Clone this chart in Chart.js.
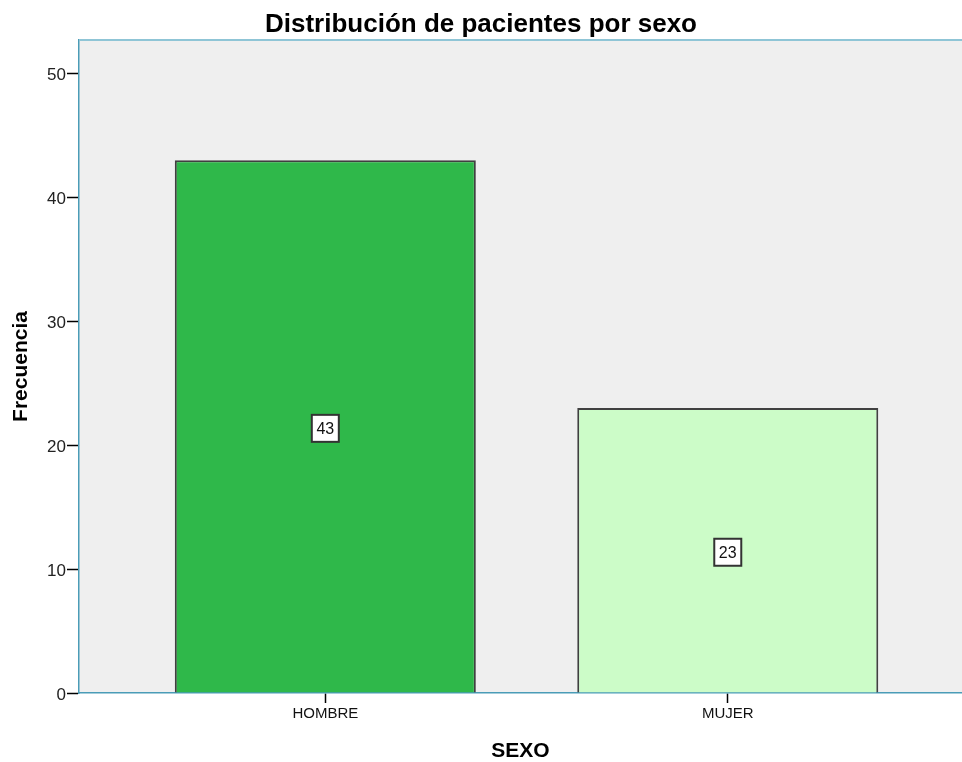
<!DOCTYPE html>
<html>
<head>
<meta charset="utf-8">
<title>Distribución de pacientes por sexo</title>
<script src="https://cdn.jsdelivr.net/npm/chart.js@4.4.1/dist/chart.umd.min.js"></script>
<style>
  html, body { margin: 0; padding: 0; background: #fff; overflow: hidden; }
  #wrap { width: 962px; height: 762px; }
</style>
</head>
<body>
<div id="wrap"><canvas id="chart"></canvas></div>
<script>
  // data
  const categories = ['HOMBRE', 'MUJER'];
  const frequencies = [43, 23];
  const yTicks = [0, 10, 20, 30, 40, 50];

  const FONT = '"Liberation Sans", Arial, sans-serif';

  // grey plot background + light blue frame on top
  const framePlugin = {
    id: 'frame',
    beforeDraw(chart) {
      const { ctx, chartArea: a } = chart;
      ctx.save();
      ctx.fillStyle = '#efefef';
      ctx.fillRect(a.left, a.top, a.right - a.left, a.bottom - a.top);
      ctx.restore();
    },
    afterDraw(chart) {
      const { ctx, chartArea: a } = chart;
      ctx.save();
      ctx.strokeStyle = '#8fc5d6';
      ctx.lineWidth = 2;
      ctx.beginPath();
      ctx.moveTo(a.left, a.top);
      ctx.lineTo(a.right, a.top);
      ctx.stroke();
      ctx.restore();
    }
  };

  // boxed count in the middle of each bar
  const countBoxes = {
    id: 'countBoxes',
    afterDatasetsDraw(chart) {
      const { ctx } = chart;
      const meta = chart.getDatasetMeta(0);
      ctx.save();
      ctx.font = '16px ' + FONT;
      ctx.textAlign = 'center';
      ctx.textBaseline = 'middle';
      meta.data.forEach((bar, i) => {
        const cx = bar.x;
        const cy = (bar.y + bar.base) / 2 + 2;
        const w = 27, h = 27;
        ctx.fillStyle = '#fff';
        ctx.fillRect(cx - w / 2, cy - h / 2, w, h);
        ctx.strokeStyle = '#333';
        ctx.lineWidth = 2;
        ctx.strokeRect(cx - w / 2, cy - h / 2, w, h);
        ctx.fillStyle = '#111';
        ctx.fillText(String(frequencies[i]), cx, cy + 1);
      });
      ctx.restore();
    }
  };

  new Chart(document.getElementById('chart'), {
    type: 'bar',
    data: {
      datasets: [{
        data: categories.map((c, i) => ({ x: i, y: frequencies[i] })),
        backgroundColor: ['#2fb84a', '#ccfcc8'],
        borderColor: '#404040',
        borderWidth: 2,
        categoryPercentage: 1,
        barPercentage: 0.748
      }]
    },
    options: {
      responsive: true,
      maintainAspectRatio: false,
      animation: false,
      layout: { padding: 0 },
      plugins: {
        legend: { display: false },
        tooltip: { enabled: false },
        title: {
          display: true,
          text: 'Distribución de pacientes por sexo',
          color: '#000',
          font: { family: FONT, size: 26, weight: 'bold', lineHeight: 1.1 },
          padding: { top: 11, bottom: 0.4 }
        }
      },
      scales: {
        x: {
          type: 'linear',
          min: -0.612,
          max: 1.582,
          offset: false,
          afterBuildTicks: s => { s.ticks = categories.map((c, i) => ({ value: i })); },
          afterFit: s => { s.height = 69; },
          grid: { offset: false, drawOnChartArea: false, drawTicks: true, tickLength: 10, tickColor: '#000', tickWidth: 1.5 },
          border: { display: true, color: '#4a9cb7', width: 1.5 },
          ticks: {
            autoSkip: false,
            maxRotation: 0,
            padding: 2,
            color: '#111',
            font: { family: FONT, size: 15 },
            callback: (v, i) => categories[i]
          },
          title: {
            display: true,
            text: 'SEXO',
            color: '#000',
            font: { family: FONT, size: 21, weight: 'bold', lineHeight: 1 },
            padding: 0
          }
        },
        y: {
          min: 0,
          max: 52.7,
          afterBuildTicks: s => { s.ticks = yTicks.map(v => ({ value: v })); },
          afterFit: s => { s.width = 79; },
          grid: { drawOnChartArea: false, drawTicks: true, tickLength: 12, tickColor: '#000', tickWidth: 1.5 },
          border: { display: true, color: '#4a9cb7', width: 1.5 },
          ticks: {
            padding: 1,
            labelOffset: 2,
            color: '#222',
            font: { family: FONT, size: 17 }
          },
          title: {
            display: true,
            text: 'Frecuencia',
            color: '#000',
            font: { family: FONT, size: 21, weight: 'bold' },
            padding: { top: 9, bottom: 0 }
          }
        }
      }
    },
    plugins: [framePlugin, countBoxes]
  });
</script>
</body>
</html>
